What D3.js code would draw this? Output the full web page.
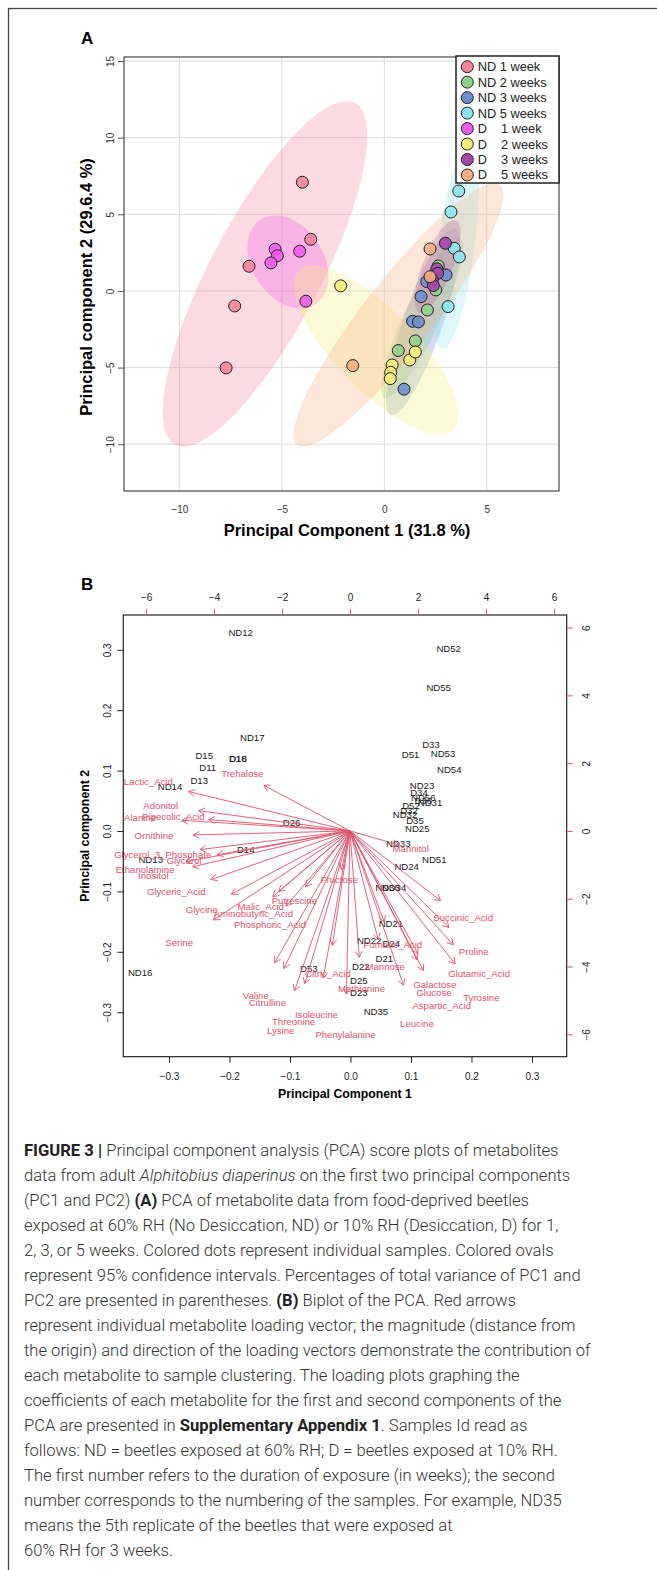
<!DOCTYPE html>
<html>
<head>
<meta charset="utf-8">
<script src="https://cdn.jsdelivr.net/npm/d3@7/dist/d3.min.js"></script>
<style>
  body { margin: 0; background: #fff; }
  svg { display: block; }
</style>
</head>
<body>
<svg id="fig" width="657" height="1570"></svg>
<script>
// ---------- Panel A data (PC scores) ----------
const groupNames = ['ND 1 week', 'ND 2 weeks', 'ND 3 weeks', 'ND 5 weeks', 'D 1 week', 'D 2 weeks', 'D 3 weeks', 'D 5 weeks'];
const groupColors = ['#F4849A', '#8FD18A', '#6F8FCB', '#8FE3F0', '#F25BF0', '#F7EE7A', '#A347A8', '#F6AE80'];

const nd1Scores = [[-4.0, 7.09], [-3.59, 3.37], [-6.6, 1.61], [-7.3, -0.98], [-7.72, -5.02]];
const nd2Scores = [[0.68, -3.89], [1.51, -3.26], [2.10, -1.24], [2.51, 0.07], [2.63, 1.63]];
const nd3Scores = [[0.96, -6.41], [1.38, -1.98], [1.66, -2.02], [1.79, -0.37], [2.07, 0.61], [3.01, 1.04]];
const nd5Scores = [[3.63, 6.52], [3.25, 5.15], [3.41, 2.78], [3.66, 2.22], [3.11, -1.02]];
const d1Scores = [[-5.33, 2.72], [-5.22, 2.30], [-5.53, 1.83], [-4.13, 2.59], [-3.83, -0.67]];
const d2Scores = [[-2.13, 0.33], [0.38, -4.83], [0.31, -5.31], [0.29, -5.72], [1.24, -4.5], [1.51, -3.98]];
const d3Scores = [[2.98, 3.11], [2.56, 1.44], [2.6, 1.15], [2.34, 0.72], [2.39, 0.35]];
const d5Scores = [[-1.54, -4.87], [2.23, 2.74], [2.23, 0.93]];
const groupScores = [nd1Scores, nd2Scores, nd3Scores, nd5Scores, d1Scores, d2Scores, d3Scores, d5Scores];

// 95% ellipses: centre, major semi-axis vector (data units), minor/major ratio
const ellipseParams = [
  [-5.82, 1.11, 4.39, 11.15, 0.285],
  [1.84, -1.76, 1.85, 5.22, 0.2],
  [1.89, -2.02, 1.56, 6.07, 0.2],
  [3.50, 2.87, 0.66, 6.62, 0.18],
  [-4.70, 1.89, 1.34, -2.77, 0.7],
  [-0.40, -3.85, 3.76, -5.22, 0.36],
  [2.6, 1.6, 0.9, 3.0, 0.3],
  [0.69, -1.57, 4.95, 8.48, 0.21]
];

const ticksA_x = [-10, -5, 0, 5];
const ticksA_y = [-10, -5, 0, 5, 10, 15];

// ---------- Panel B data (biplot) ----------
const sampleLabels = [
  ['ND12', -0.1815, 0.329], ['ND17', -0.1623, 0.155], ['D15', -0.2417, 0.1247],
  ['D16', -0.1864, 0.1192], ['D18', -0.1860, 0.1192], ['D11', -0.236, 0.1055],
  ['D13', -0.25, 0.0833], ['ND14', -0.2983, 0.0733], ['D26', -0.0972, 0.0137],
  ['D14', -0.1732, -0.0315], ['ND13', -0.3302, -0.0469],
  ['ND52', 0.1623, 0.3025], ['ND55', 0.1458, 0.2379], ['D33', 0.1331, 0.1429],
  ['D51', 0.0995, 0.127], ['ND53', 0.1529, 0.128], ['ND54', 0.1633, 0.1015],
  ['ND23', 0.1182, 0.075], ['D34', 0.1132, 0.0641], ['ND56', 0.1203, 0.0558],
  ['D36', 0.1203, 0.0497], ['ND31', 0.1314, 0.0469], ['D52', 0.1, 0.0414],
  ['D32', 0.0967, 0.0336], ['ND32', 0.0901, 0.0265], ['D35', 0.1066, 0.0177],
  ['ND25', 0.1104, 0.0033], ['ND33', 0.079, -0.0204], ['ND51', 0.1385, -0.048],
  ['ND24', 0.0929, -0.0591], ['ND36', 0.0612, -0.0939], ['ND34', 0.0719, -0.0944],
  ['ND21', 0.0669, -0.154], ['ND22', 0.0309, -0.1816], ['D24', 0.0674, -0.186],
  ['D21', 0.056, -0.2108], ['D22', 0.017, -0.2247], ['D53', -0.0688, -0.2274],
  ['D25', 0.0139, -0.2478], ['D23', 0.0139, -0.2677], ['ND35', 0.0421, -0.2997],
  ['ND16', -0.3476, -0.2346]
];

// metabolite label positions on the loading (top/right) scale
const metaboliteLabels = [
  ['Trehalose', -3.168, 1.681], ['Lactic_Acid', -5.932, 1.454], ['Adonitol', -5.568, 0.746],
  ['Alanine', -6.176, 0.392], ['Pipecolic_Acid', -5.197, 0.422], ['Ornithine', -5.765, -0.147],
  ['Glycerol_3_Phosphate', -5.509, -0.687], ['Glycerol', -4.882, -0.876], ['Ethanolamine', -6.029, -1.13],
  ['Inositol', -5.785, -1.319], ['Glyceric_Acid', -5.112, -1.791], ['Glycine', -4.362, -2.33],
  ['Aminobutyric_Acid', -2.844, -2.428], ['Malic_Acid', -2.625, -2.233], ['Putrescine', -1.638, -2.056],
  ['Phosphoric_Acid', -2.356, -2.773], ['Serine', -5.026, -3.283], ['Fructose', -0.315, -1.425],
  ['Mannitol', 1.785, -0.51], ['Succinic_Acid', 3.33, -2.57], ['Proline', 3.64, -3.56],
  ['Glutamic_Acid', 3.797, -4.198], ['Tyrosine', 3.865, -4.906], ['Galactose', 2.494, -4.522],
  ['Glucose', 2.47, -4.758], ['Aspartic_Acid', 2.697, -5.153], ['Leucine', 1.968, -5.693],
  ['Fumaric_Acid', 1.259, -3.363], ['Mannose', 1.035, -4.003], ['Methionine', 0.338, -4.661],
  ['Citric_Acid', -0.65, -4.218], ['Valine', -2.771, -4.858], ['Citrulline', -2.432, -5.074],
  ['Isoleucine', -0.985, -5.428], ['Threonine', -1.659, -5.634], ['Lysine', -2.041, -5.9],
  ['Phenylalanine', -0.132, -6.018]
];
const arrowShrink = 0.8;

const ticksB_pc = [-0.3, -0.2, -0.1, 0, 0.1, 0.2, 0.3];
const ticksB_load = [-6, -4, -2, 0, 2, 4, 6];

// ---------- Caption ----------
const captionLines = [
  '**FIGURE 3 |** Principal component analysis (PCA) score plots of metabolites',
  'data from adult _Alphitobius diaperinus_ on the first two principal components',
  '(PC1 and PC2) **(A)** PCA of metabolite data from food-deprived beetles',
  'exposed at 60% RH (No Desiccation, ND) or 10% RH (Desiccation, D) for 1,',
  '2, 3, or 5 weeks. Colored dots represent individual samples. Colored ovals',
  'represent 95% confidence intervals. Percentages of total variance of PC1 and',
  'PC2 are presented in parentheses. **(B)** Biplot of the PCA. Red arrows',
  'represent individual metabolite loading vector; the magnitude (distance from',
  'the origin) and direction of the loading vectors demonstrate the contribution of',
  'each metabolite to sample clustering. The loading plots graphing the',
  'coefficients of each metabolite for the first and second components of the',
  'PCA are presented in **Supplementary Appendix 1**. Samples Id read as',
  'follows: ND = beetles exposed at 60% RH; D = beetles exposed at 10% RH.',
  'The first number refers to the duration of exposure (in weeks); the second',
  'number corresponds to the numbering of the samples. For example, ND35',
  'means the 5th replicate of the beetles that were exposed at',
  '60% RH for 3 weeks.'
];

const FONT = '"Liberation Sans", Arial, Helvetica, sans-serif';
const RED = '#DF536B';
const svg = d3.select('#fig');

// outer frame (only left and top edges fall inside the window)
svg.append('rect')
  .attr('x', 8.5).attr('y', 8.5)
  .attr('width', 700).attr('height', 1600)
  .attr('fill', 'none').attr('stroke', '#444').attr('stroke-width', 1.3);

// =================== PANEL A ===================
const pA = { left: 124, right: 559, top: 57, bottom: 491 };
const xA = d3.scaleLinear().domain([-12.7, 8.52]).range([pA.left, pA.right]);
const yA = d3.scaleLinear().domain([-13.05, 15.26]).range([pA.bottom, pA.top]);

const gA = svg.append('g');

gA.append('text').attr('x', 81).attr('y', 44)
  .attr('font-family', FONT).attr('font-weight', 'bold').attr('font-size', 17)
  .text('A');

// grid
gA.selectAll('line.gx').data(ticksA_x).join('line')
  .attr('x1', d => xA(d)).attr('x2', d => xA(d))
  .attr('y1', pA.top).attr('y2', pA.bottom)
  .attr('stroke', '#dcdcdc').attr('stroke-width', 1);
gA.selectAll('line.gy').data(ticksA_y).join('line')
  .attr('x1', pA.left).attr('x2', pA.right)
  .attr('y1', d => yA(d)).attr('y2', d => yA(d))
  .attr('stroke', '#dcdcdc').attr('stroke-width', 1);

// ellipses
const ellipsePath = (p) => {
  const [cx, cy, mx, my, ratio] = p;
  const c = [xA(cx), yA(cy)];
  const u = [xA(cx + mx) - c[0], yA(cy + my) - c[1]];
  const v = [-u[1] * ratio, u[0] * ratio];
  const pts = d3.range(0, 2 * Math.PI, Math.PI / 60).map(t =>
    [c[0] + Math.cos(t) * u[0] + Math.sin(t) * v[0], c[1] + Math.cos(t) * u[1] + Math.sin(t) * v[1]]);
  return d3.line()(pts) + 'Z';
};
gA.selectAll('path.ell').data(ellipseParams).join('path')
  .attr('d', ellipsePath)
  .attr('fill', (d, i) => groupColors[i])
  .attr('fill-opacity', 0.3)
  .attr('stroke', 'none');

// points
groupScores.forEach((pts, i) => {
  gA.selectAll(null).data(pts).join('circle')
    .attr('cx', d => xA(d[0])).attr('cy', d => yA(d[1]))
    .attr('r', 6)
    .attr('fill', groupColors[i]).attr('fill-opacity', 0.9)
    .attr('stroke', '#222').attr('stroke-width', 1);
});

// box
gA.append('rect')
  .attr('x', pA.left).attr('y', pA.top)
  .attr('width', pA.right - pA.left).attr('height', pA.bottom - pA.top)
  .attr('fill', 'none').attr('stroke', '#555').attr('stroke-width', 1.3);

// axes
const axA_x = gA.append('g').attr('transform', `translate(0,${pA.bottom})`)
  .call(d3.axisBottom(xA).tickValues(ticksA_x).tickSize(0).tickPadding(15));
const axA_y = gA.append('g').attr('transform', `translate(${pA.left},0)`)
  .call(d3.axisLeft(yA).tickValues(ticksA_y).tickSize(6).tickPadding(6));
[axA_x, axA_y].forEach(ax => {
  ax.select('.domain').remove();
  ax.selectAll('line').attr('stroke', '#555');
  ax.selectAll('text').attr('font-family', FONT).attr('font-size', 10).attr('fill', '#333');
});
// rotated y tick labels, centred on their tick
axA_y.selectAll('.tick text')
  .attr('x', 0).attr('dy', '0.35em').attr('text-anchor', 'middle')
  .attr('transform', 'translate(-14,0) rotate(-90)');

gA.append('text')
  .attr('x', 347).attr('y', 536)
  .attr('text-anchor', 'middle')
  .attr('font-family', FONT).attr('font-weight', 'bold').attr('font-size', 16.5)
  .text('Principal Component 1 (31.8 %)');
gA.append('text')
  .attr('transform', 'translate(92,287) rotate(-90)')
  .attr('text-anchor', 'middle')
  .attr('font-family', FONT).attr('font-weight', 'bold').attr('font-size', 16.5)
  .text('Principal component 2 (29.6.4 %)');

// legend
const leg = gA.append('g');
leg.append('rect').attr('x', 456).attr('y', 56).attr('width', 103).attr('height', 127)
  .attr('fill', '#fff').attr('stroke', '#222').attr('stroke-width', 1.5);
const legRow = d3.scaleLinear().domain([0, 7]).range([66.7, 175]);
groupNames.forEach((name, i) => {
  const cy = legRow(i);
  leg.append('circle').attr('cx', 467.3).attr('cy', cy).attr('r', 6)
    .attr('fill', groupColors[i]).attr('stroke', '#222').attr('stroke-width', 1);
  const parts = name.split(' ');
  const t = leg.append('text').attr('y', cy).attr('dy', '0.35em')
    .attr('font-family', FONT).attr('font-size', 12.8).attr('fill', '#222');
  if (parts[0] === 'ND') {
    t.attr('x', 477.7).text(name);
  } else {
    t.append('tspan').attr('x', 477.7).text(parts[0]);
    t.append('tspan').attr('x', 501).text(parts.slice(1).join(' '));
  }
});

// =================== PANEL B ===================
const pB = { left: 123.3, right: 566.7, top: 615, bottom: 1056.7 };
const xB = d3.scaleLinear().domain([-0.3755, 0.3574]).range([pB.left, pB.right]);
const yB = d3.scaleLinear().domain([-0.3737, 0.3576]).range([pB.bottom, pB.top]);
const xT = d3.scaleLinear().domain([-6.668, 6.373]).range([pB.left, pB.right]);
const yR = d3.scaleLinear().domain([-6.661, 6.372]).range([pB.bottom, pB.top]);

const gB = svg.append('g');
gB.append('text').attr('x', 81).attr('y', 590)
  .attr('font-family', FONT).attr('font-weight', 'bold').attr('font-size', 17)
  .text('B');

// sample labels
gB.selectAll('text.smp').data(sampleLabels).join('text')
  .attr('x', d => xB(d[1])).attr('y', d => yB(d[2]))
  .attr('dy', '0.35em').attr('text-anchor', 'middle')
  .attr('font-family', FONT).attr('font-size', 9.6).attr('fill', '#1a1a1a')
  .text(d => d[0]);

// loading arrows
const arrowG = gB.append('g').attr('stroke', RED).attr('stroke-width', 0.9).attr('fill', 'none');
metaboliteLabels.forEach(d => {
  const x0 = xT(0), y0 = yR(0);
  const x1 = xT(d[1] * arrowShrink), y1 = yR(d[2] * arrowShrink);
  const ang = Math.atan2(y1 - y0, x1 - x0);
  const L = 7, a = Math.PI / 6;
  arrowG.append('path').attr('d',
    `M${x0},${y0}L${x1},${y1}` +
    `M${x1 - L * Math.cos(ang - a)},${y1 - L * Math.sin(ang - a)}L${x1},${y1}` +
    `L${x1 - L * Math.cos(ang + a)},${y1 - L * Math.sin(ang + a)}`);
});

// metabolite labels
gB.selectAll('text.met').data(metaboliteLabels).join('text')
  .attr('x', d => xT(d[1])).attr('y', d => yR(d[2]))
  .attr('dy', '0.35em').attr('text-anchor', 'middle')
  .attr('font-family', FONT).attr('font-size', 9.6).attr('fill', RED)
  .text(d => d[0]);

// box
gB.append('rect')
  .attr('x', pB.left).attr('y', pB.top)
  .attr('width', pB.right - pB.left).attr('height', pB.bottom - pB.top)
  .attr('fill', 'none').attr('stroke', '#222').attr('stroke-width', 1.2);

// axes
const axB_b = gB.append('g').attr('transform', `translate(0,${pB.bottom})`)
  .call(d3.axisBottom(xB).tickValues(ticksB_pc).tickFormat(d3.format('.1f')).tickSize(6).tickPadding(10));
const axB_l = gB.append('g').attr('transform', `translate(${pB.left},0)`)
  .call(d3.axisLeft(yB).tickValues(ticksB_pc).tickFormat(d3.format('.1f')).tickSize(6));
const axB_t = gB.append('g').attr('transform', `translate(0,${pB.top})`)
  .call(d3.axisTop(xT).tickValues(ticksB_load).tickSize(6).tickPadding(8));
const axB_r = gB.append('g').attr('transform', `translate(${pB.right},0)`)
  .call(d3.axisRight(yR).tickValues(ticksB_load).tickSize(6));
[axB_b, axB_l, axB_t, axB_r].forEach(ax => {
  ax.select('.domain').remove();
  ax.selectAll('text').attr('font-family', FONT).attr('font-size', 10).attr('fill', '#222');
});
axB_b.selectAll('line').attr('stroke', '#222');
axB_l.selectAll('line').attr('stroke', '#222');
axB_t.selectAll('line').attr('stroke', RED);
axB_r.selectAll('line').attr('stroke', RED);
axB_l.selectAll('.tick text').attr('x', 0).attr('dy', '0.35em').attr('text-anchor', 'middle')
  .attr('transform', 'translate(-16,0) rotate(-90)');
axB_r.selectAll('.tick text').attr('x', 0).attr('dy', '0.35em').attr('text-anchor', 'middle')
  .attr('transform', 'translate(20,0) rotate(-90)');

gB.append('text')
  .attr('x', (pB.left + pB.right) / 2).attr('y', 1098)
  .attr('text-anchor', 'middle')
  .attr('font-family', FONT).attr('font-weight', 'bold').attr('font-size', 12.3)
  .text('Principal Component 1');
gB.append('text')
  .attr('transform', `translate(89,${(pB.top + pB.bottom) / 2}) rotate(-90)`)
  .attr('text-anchor', 'middle')
  .attr('font-family', FONT).attr('font-weight', 'bold').attr('font-size', 12.3)
  .text('Principal component 2');

// =================== CAPTION ===================
const capG = svg.append('g')
  .attr('font-family', 'Roboto, "Liberation Sans", sans-serif')
  .attr('font-size', 16.6).attr('fill', '#333');
const capRow = d3.scaleLinear().domain([0, 16]).range([1156, 1556]);
captionLines.forEach((line, i) => {
  const t = capG.append('text').attr('x', 24).attr('y', capRow(i)).attr('font-weight', 300);
  line.split(/(\*\*[^*]+\*\*|_[^_]+_)/).filter(s => s.length).forEach(seg => {
    const ts = t.append('tspan');
    if (seg.startsWith('**')) ts.attr('font-weight', 'bold').attr('fill', '#222').text(seg.slice(2, -2));
    else if (seg.startsWith('_')) ts.attr('font-style', 'italic').text(seg.slice(1, -1));
    else ts.text(seg);
  });
  const len = t.node().getComputedTextLength();
  if (len > 628) t.attr('textLength', 628).attr('lengthAdjust', 'spacingAndGlyphs');
});
</script>
</body>
</html>
